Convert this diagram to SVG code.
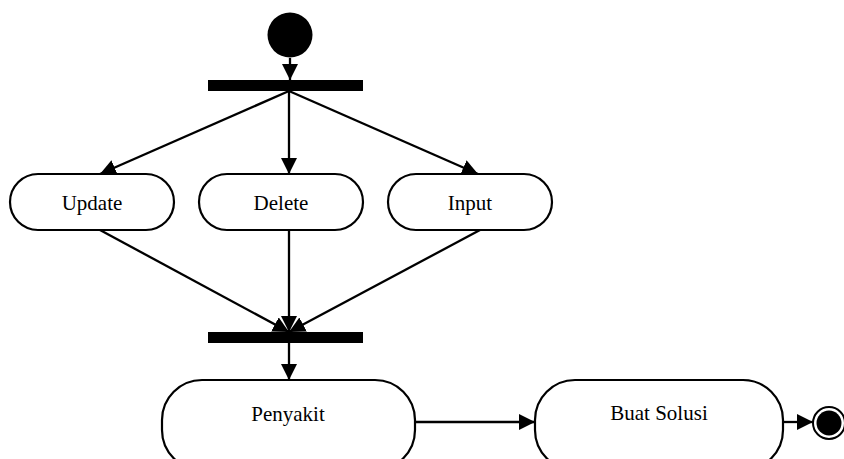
<svg xmlns="http://www.w3.org/2000/svg" width="844" height="459" viewBox="0 0 844 459">
  <style>
    .act { fill: #fff; stroke: #000; stroke-width: 2.2; }
    .bar { fill: #000; }
    .lbl { font-family: "Liberation Serif", "Times New Roman", serif; font-size: 21px; fill: #000; text-anchor: middle; }
    .flow { fill: none; stroke: #000; stroke-width: 2.3; marker-end: url(#head); }
  </style>
  <defs>
    <marker id="head" markerUnits="userSpaceOnUse" markerWidth="17" markerHeight="17" refX="16" refY="8" orient="auto">
      <path d="M0,0 L16,8 L0,16 Z" fill="#000"/>
    </marker>
  </defs>

  <rect width="844" height="459" fill="#fff"/>

  <g id="connectors">
    <line class="flow" x1="290" y1="58" x2="290" y2="80"/>
    <line class="flow" x1="289" y1="91" x2="100" y2="174"/>
    <line class="flow" x1="289" y1="91" x2="289" y2="174"/>
    <line class="flow" x1="289" y1="91" x2="478" y2="174"/>
    <line class="flow" x1="100" y1="230" x2="289" y2="332"/>
    <line class="flow" x1="289" y1="230" x2="289" y2="332"/>
    <line class="flow" x1="480" y1="230" x2="289" y2="332"/>
    <line class="flow" x1="289" y1="343" x2="289" y2="380"/>
    <line class="flow" x1="415" y1="422" x2="535" y2="422"/>
    <line class="flow" x1="783" y1="422" x2="813" y2="422"/>
  </g>

  <g id="start">
    <circle cx="290" cy="35" r="22.5" fill="#000"/>
  </g>

  <g id="fork">
    <rect class="bar" x="208" y="80" width="155" height="11"/>
  </g>

  <g id="update">
    <rect class="act" x="10" y="174" width="164" height="56" rx="28"/>
    <text class="lbl" x="92" y="210">Update</text>
  </g>

  <g id="delete">
    <rect class="act" x="199" y="174" width="164" height="56" rx="28"/>
    <text class="lbl" x="281" y="210">Delete</text>
  </g>

  <g id="input">
    <rect class="act" x="388" y="174" width="164" height="56" rx="28"/>
    <text class="lbl" x="470" y="210">Input</text>
  </g>

  <g id="join">
    <rect class="bar" x="208" y="332" width="155" height="11"/>
  </g>

  <g id="penyakit">
    <rect class="act" x="162" y="380" width="253" height="90" rx="40"/>
    <text class="lbl" x="288" y="421">Penyakit</text>
  </g>

  <g id="buat-solusi">
    <rect class="act" x="535" y="380" width="248" height="90" rx="40"/>
    <text class="lbl" x="659" y="420">Buat Solusi</text>
  </g>

  <g id="end">
    <circle cx="829" cy="423" r="16" fill="#fff" stroke="#000" stroke-width="2"/>
    <circle cx="829" cy="423" r="12.5" fill="#000"/>
  </g>
</svg>
